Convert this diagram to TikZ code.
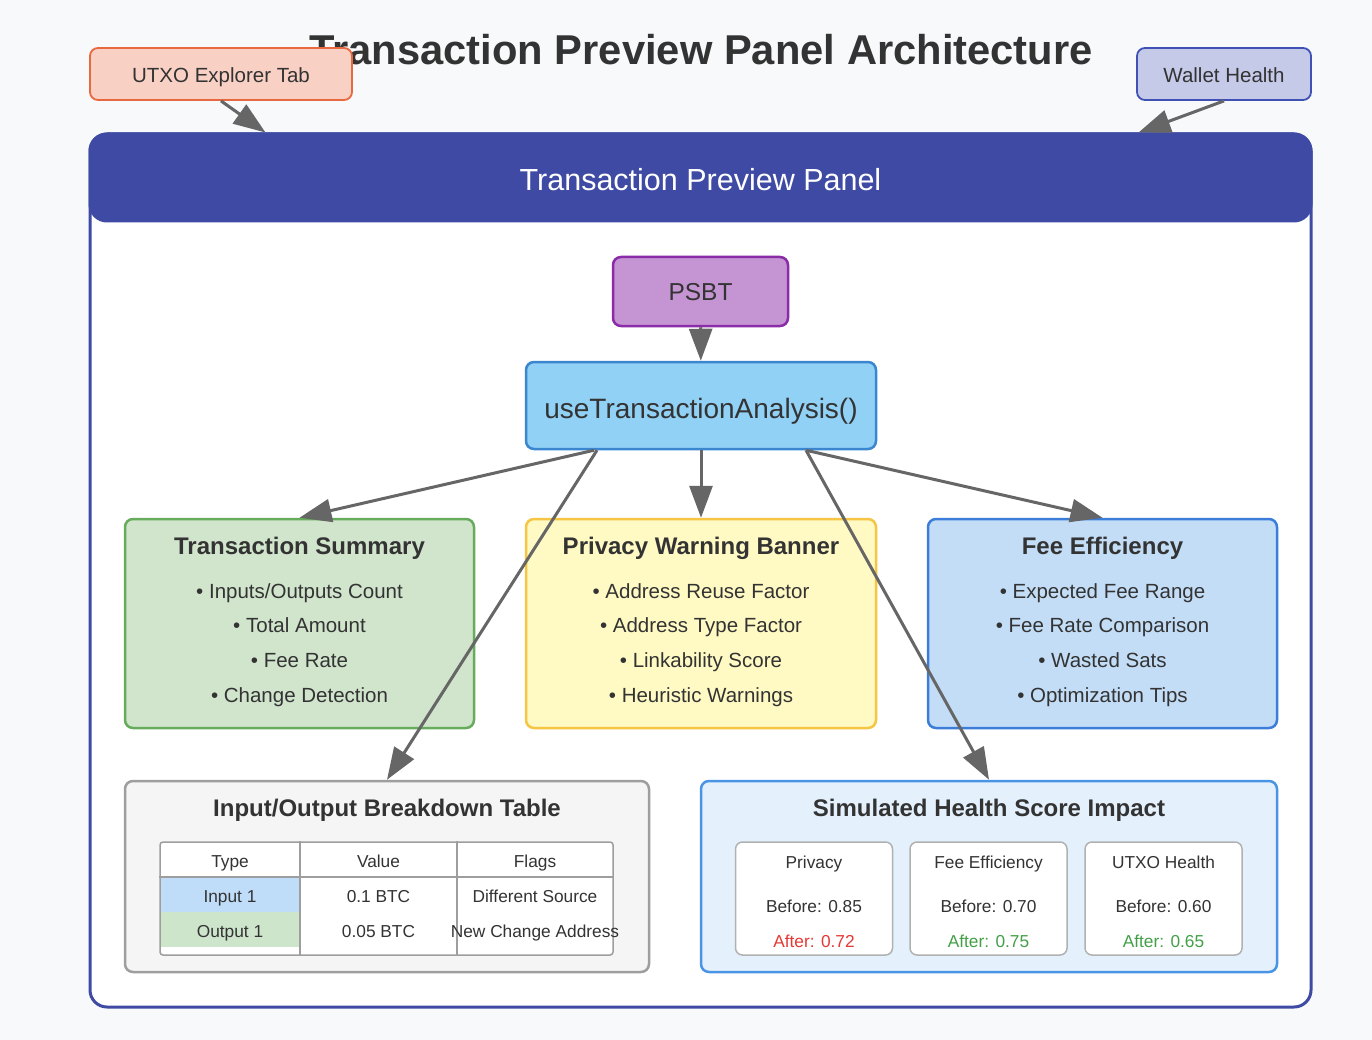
\documentclass[tikz,border=0pt]{standalone}
\usepackage{fontspec}
\setmainfont{Liberation Sans}
\usetikzlibrary{arrows.meta}

\definecolor{bgcol}{HTML}{F8F9FA}
\definecolor{txt}{HTML}{333333}
\definecolor{arrowgray}{HTML}{666666}
\definecolor{hdrblue}{HTML}{3E4AA3}
\definecolor{utxofill}{HTML}{F9D0C4}
\definecolor{utxoline}{HTML}{E8693F}
\definecolor{walletfill}{HTML}{C5CAE9}
\definecolor{walletline}{HTML}{3F51B5}
\definecolor{psbtfill}{HTML}{C594D3}
\definecolor{psbtline}{HTML}{8A2BA8}
\definecolor{hookfill}{HTML}{90D1F5}
\definecolor{hookline}{HTML}{3A86CF}
\definecolor{sumfill}{HTML}{D0E5CC}
\definecolor{sumline}{HTML}{66AC5C}
\definecolor{privfill}{HTML}{FFF9C4}
\definecolor{privline}{HTML}{F5C543}
\definecolor{feefill}{HTML}{C3DDF7}
\definecolor{feeline}{HTML}{3B7DD8}
\definecolor{tabfill}{HTML}{F5F5F5}
\definecolor{tabline}{HTML}{9E9E9E}
\definecolor{healthfill}{HTML}{E4F1FC}
\definecolor{healthline}{HTML}{4A94E6}
\definecolor{badred}{HTML}{E53935}
\definecolor{goodgreen}{HTML}{43A047}
\definecolor{cellblue}{HTML}{BFDDF8}
\definecolor{cellgreen}{HTML}{CDE5CB}

\begin{document}
\begin{tikzpicture}[x=1pt,y=-1pt]

                \tikzset{box/.style = {draw, rounded corners=8pt, line width=2.5pt, text=txt, inner sep=0pt, text depth=0pt}}
                \tikzset{edge/.style = {-{Triangle[length=32pt,width=23pt]}, line width=3pt, draw=arrowgray, color=arrowgray}}
                \tikzset{boxtitle/.style = {text=txt, yshift=-2.5pt, text height=17.3pt, text depth=5pt, font=\fontsize{24}{28}\selectfont\bfseries}}
                \tikzset{bullets/.style = {text=txt, yshift=-2pt, align=center, font=\fontsize{20.5}{34.7}\selectfont}}
                \tikzset{small/.style = {text=txt, yshift=-2.5pt, text height=12.5pt, text depth=3.6pt, font=\fontsize{17.3}{20}\selectfont}}
                \tikzset{scorebox/.style = {draw=tabline!80, fill=white, rounded corners=7pt, line width=1.5pt, minimum width=157pt, minimum height=113pt}}

                \fill[bgcol] (0,0) rectangle (1372,1040);

                \node[text=txt, font=\fontsize{41.7}{48}\selectfont\bfseries] (title) at (701,50) {Transaction Preview Panel Architecture};

                \node[box, fill=utxofill, draw=utxoline, line width=1.8pt, minimum width=262pt, minimum height=52pt, text height=16.8pt, font=\fontsize{20.5}{24}\selectfont] (utxo) at (221,74) {UTXO Explorer Tab};
                \node[box, fill=walletfill, draw=walletline, line width=1.8pt, minimum width=174pt, minimum height=52pt, text height=16.8pt, font=\fontsize{20.5}{24}\selectfont] (wallet) at (1224,74) {Wallet Health};

                \node[box, fill=white, draw=hdrblue, line width=3pt, rounded corners=17pt, minimum width=1221pt, minimum height=873pt] (panel) at (700.5,570.5) {};
                \node[box, fill=hdrblue, draw=hdrblue, line width=3pt, rounded corners=17pt, minimum width=1221pt, minimum height=87pt, text=white, text height=27pt, font=\fontsize{30.5}{36}\selectfont] (header) at (700.5,177.5) {Transaction Preview Panel};

                \node[box, fill=psbtfill, draw=psbtline, minimum width=175pt, minimum height=69pt, text height=18.6pt, font=\fontsize{24.5}{28}\selectfont] (psbt) at (700.5,291.5) {PSBT};
                \node[box, fill=hookfill, draw=hookline, minimum width=350pt, minimum height=87pt, text height=26.2pt, font=\fontsize{28}{32}\selectfont] (usea) at (701,405.5) {useTransactionAnalysis()};

                \node[box, fill=sumfill, draw=sumline, minimum width=349pt, minimum height=209pt] (tsum) at (299.5,623.5) {};
                \node[boxtitle] (tsumtitle) at (299.5,546) {Transaction Summary};
                \node[bullets] (tsumlist) at (299.5,643) {• Inputs/Outputs Count\\• Total Amount\\• Fee Rate\\• Change Detection};

                \node[box, fill=privfill, draw=privline, minimum width=350pt, minimum height=209pt] (priv) at (701,623.5) {};
                \node[boxtitle] (privtitle) at (701,546) {Privacy Warning Banner};
                \node[bullets] (privlist) at (701,643) {• Address Reuse Factor\\• Address Type Factor\\• Linkability Score\\• Heuristic Warnings};

                \node[box, fill=feefill, draw=feeline, minimum width=349pt, minimum height=209pt] (fee) at (1102.5,623.5) {};
                \node[boxtitle] (feetitle) at (1102.5,546) {Fee Efficiency};
                \node[bullets] (feelist) at (1102.5,643) {• Expected Fee Range\\• Fee Rate Comparison\\• Wasted Sats\\• Optimization Tips};

                \node[box, fill=tabfill, draw=tabline, minimum width=524pt, minimum height=191pt] (iotab) at (387,876.5) {};
                \node[boxtitle] (iotabtitle) at (387,808) {Input/Output Breakdown Table};
                \node[draw=tabline, fill=white, line width=1.5pt, rounded corners=3pt, minimum width=453pt, minimum height=113pt, inner sep=0pt] (grid) at (386.5,898.5) {};
                \fill[cellblue] (160.75,877) rectangle (300,912);
                \fill[cellgreen] (160.75,912) rectangle (300,947);
                \draw[tabline, line width=1.5pt] (grid.west |- 0,877) -- (grid.east |- 0,877);
                \draw[tabline, line width=1.5pt] (grid.north -| 300,0) -- (grid.south -| 300,0);
                \draw[tabline, line width=1.5pt] (grid.north -| 457,0) -- (grid.south -| 457,0);
                \node[small] (htype) at (230,861) {Type};
                \node[small] (hvalue) at (378.5,861) {Value};
                \node[small] (hflags) at (535,861) {Flags};
                \node[small] (in1) at (230,896) {Input 1};
                \node[small] (in1val) at (378.5,896) {0.1 BTC};
                \node[small] (in1flag) at (535,896) {Different Source};
                \node[small] (out1) at (230,931) {Output 1};
                \node[small] (out1val) at (378.5,931) {0.05 BTC};
                \node[small] (out1flag) at (535,931) {New Change Address};

                \node[box, fill=healthfill, draw=healthline, minimum width=576pt, minimum height=191pt] (health) at (989,876.5) {};
                \node[boxtitle] (healthtitle) at (989,808) {Simulated Health Score Impact};
                \node[scorebox] (sprivacy) at (814,898.5) {};
                \node[scorebox] (sfee) at (988.5,898.5) {};
                \node[scorebox] (sutxo) at (1163.5,898.5) {};
                \node[small] (sprivname) at (814,862) {Privacy};
                \node[small] (sprivbefore) at (814,906) {Before: 0.85};
                \node[small, text=badred] (sprivafter) at (814,941) {After: 0.72};
                \node[small] (sfeename) at (988.5,862) {Fee Efficiency};
                \node[small] (sfeebefore) at (988.5,906) {Before: 0.70};
                \node[small, text=goodgreen] (sfeeafter) at (988.5,941) {After: 0.75};
                \node[small] (sutxoname) at (1163.5,862) {UTXO Health};
                \node[small] (sutxobefore) at (1163.5,906) {Before: 0.60};
                \node[small, text=goodgreen] (sutxoafter) at (1163.5,941) {After: 0.65};

                \draw[edge] (utxo.south) -- ([xshift=177pt]panel.north west);
                \draw[edge] (wallet.south) -- ([xshift=-174pt]panel.north east);
                \draw[edge] (psbt) -- (usea);
                \draw[edge] ([xshift=-107pt]usea.south) -- (tsum.north);
                \draw[edge] (usea) -- (priv);
                \draw[edge] ([xshift=105pt]usea.south) -- (fee.north);
                \draw[edge] ([xshift=-104pt]usea.south) -- (iotab.north);
                \draw[edge] ([xshift=105pt]usea.south) -- (health.north);

\end{tikzpicture}
\end{document}
